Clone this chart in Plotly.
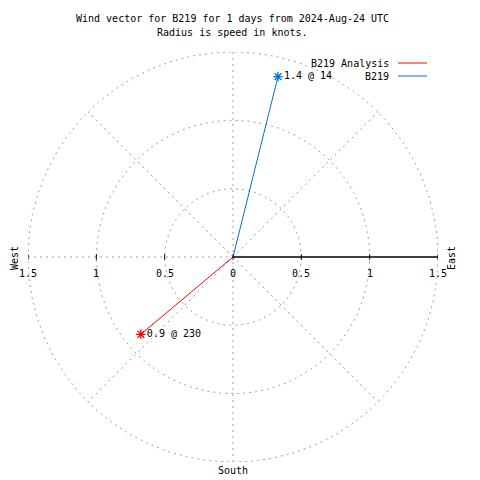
import numpy as np
import plotly.graph_objects as go

# Data
series_names = ["B219 Analysis", "B219"]
speeds = [0.88, 1.36]        # knots
directions = [230, 14]       # degrees (from north, clockwise)
colors = ["#ff0000", "#0070e0"]
ring_radii = [0.5, 1.0, 1.5]
tick_vals = [-1.5, -1.0, -0.5, 0.0, 0.5, 1.0, 1.5]
tick_labels = ["1.5", "1", "0.5", "0", "0.5", "1", "1.5"]
spoke_angles = [45, 135, 225, 315]
title_lines = ["Wind vector for B219 for 1 days from 2024-Aug-24 UTC", "Radius is speed in knots."]

R = max(ring_radii)
FONT = "DejaVu Sans Mono"
GRID = "#a0a0a0"
FS = 10
W = H = 480
ML, MR, MT, MB = 28, 42, 52, 18
PW, PH = W - ML - MR, H - MT - MB


def px_to_paper(px, py):
    return (px - ML) / PW, (H - MB - py) / PH


fig = go.Figure()

dash = dict(color=GRID, width=1, dash="2px,4px")
t = np.linspace(0, 2 * np.pi, 361)
for r in ring_radii:
    fig.add_trace(go.Scatter(x=r * np.cos(t), y=r * np.sin(t), mode="lines",
                             line=dash, hoverinfo="skip", showlegend=False))
for a in spoke_angles:
    ar = np.deg2rad(a)
    fig.add_trace(go.Scatter(x=[0, R * np.sin(ar)], y=[0, R * np.cos(ar)], mode="lines",
                             line=dash, hoverinfo="skip", showlegend=False))
fig.add_trace(go.Scatter(x=[-R, 0], y=[0, 0], mode="lines", line=dash,
                         hoverinfo="skip", showlegend=False))
fig.add_trace(go.Scatter(x=[0, 0], y=[-R, R], mode="lines", line=dash,
                         hoverinfo="skip", showlegend=False))
fig.add_trace(go.Scatter(x=[0, R], y=[0, 0], mode="lines",
                         line=dict(color="black", width=1.3),
                         hoverinfo="skip", showlegend=False))
for v in tick_vals:
    fig.add_shape(type="line", x0=v, x1=v, y0=-0.02, y1=0.02, xref="x", yref="y",
                  line=dict(color="black", width=1))
for v, lab in zip(tick_vals, tick_labels):
    fig.add_annotation(x=v, y=0, xref="x", yref="y", text=lab, showarrow=False,
                       yshift=-16, font=dict(family=FONT, size=FS, color="black"))

for name, s, d, c in zip(series_names, speeds, directions, colors):
    dr = np.deg2rad(d)
    ex, ey = s * np.sin(dr), s * np.cos(dr)
    fig.add_trace(go.Scatter(x=[0, ex], y=[0, ey], mode="lines",
                             line=dict(color=c, width=1), showlegend=False))
    fig.add_trace(go.Scatter(x=[ex], y=[ey], mode="markers+text",
                             marker=dict(symbol="asterisk-open", size=8, color=c,
                                         line=dict(color=c, width=1.3)),
                             text=[f"{s:.1f} @ {d}"], textposition="middle right",
                             textfont=dict(family=FONT, size=FS, color="black"),
                             showlegend=False))

# compass labels
for txt, px, py, ang in [("West", 14, 258, -90), ("East", 451, 258, -90), ("South", 233, 470, 0)]:
    x, y = px_to_paper(px, py)
    fig.add_annotation(x=x, y=y, xref="paper", yref="paper", text=txt, textangle=ang,
                       showarrow=False, xanchor="center", yanchor="middle",
                       font=dict(family=FONT, size=FS, color="black"))

# title lines
for line, py in zip(title_lines, [19, 33]):
    x, y = px_to_paper(232, py)
    fig.add_annotation(x=x, y=y, xref="paper", yref="paper", text=line,
                       showarrow=False, xanchor="center", yanchor="middle",
                       font=dict(family=FONT, size=FS, color="black"))

# manual legend
leg_y = [63, 76]
for name, c, py in zip(series_names, colors, leg_y):
    x, y = px_to_paper(391, py)
    fig.add_annotation(x=x, y=y, xref="paper", yref="paper", text=name,
                       showarrow=False, xanchor="right", yanchor="middle",
                       font=dict(family=FONT, size=FS, color="black"))
    x0, y0 = px_to_paper(398, py)
    x1, _ = px_to_paper(427, py)
    fig.add_shape(type="line", xref="paper", yref="paper", x0=x0, x1=x1, y0=y0, y1=y0,
                  line=dict(color=c, width=1))

fig.update_layout(
    width=W, height=H,
    margin=dict(l=ML, r=MR, t=MT, b=MB),
    plot_bgcolor="white", paper_bgcolor="white",
    showlegend=False,
    xaxis=dict(range=[-R, R], visible=False, fixedrange=True),
    yaxis=dict(range=[-R, R], visible=False, fixedrange=True),
)

fig.write_html("out.html", config={"displayModeBar": False},
               post_script="document.body.style.margin='0';")
